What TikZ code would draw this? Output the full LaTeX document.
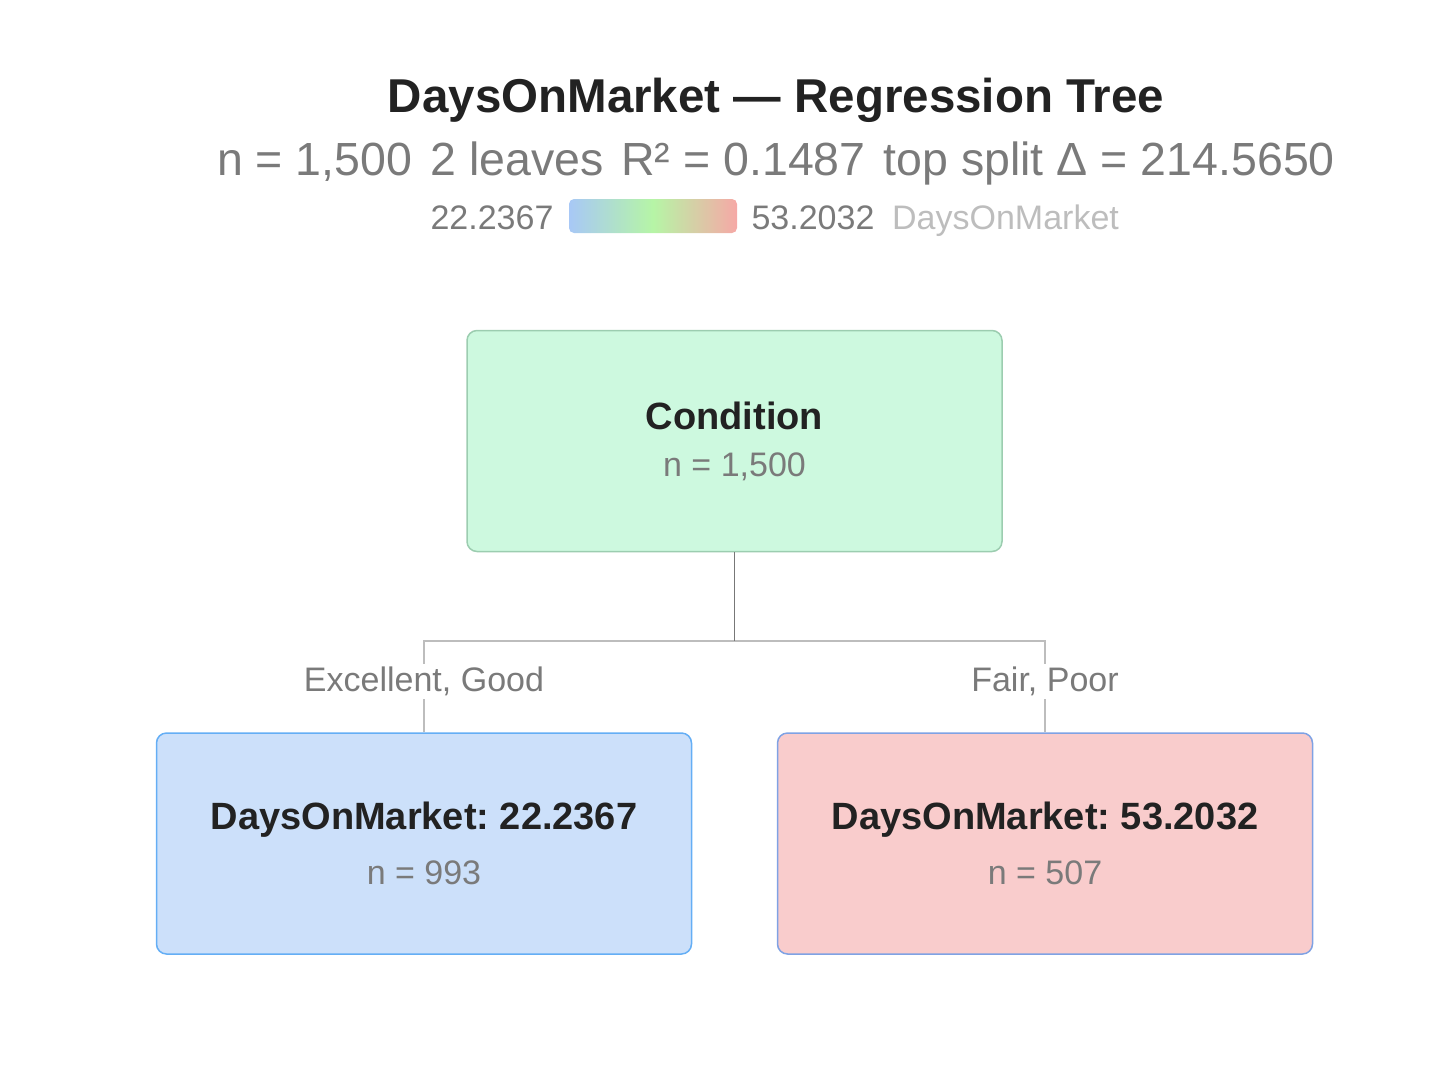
\documentclass[tikz,border=0pt]{standalone}
\usepackage{fontspec}
\setmainfont{Liberation Sans}
\usetikzlibrary{positioning}
\definecolor{titlegray}{HTML}{222222}
\definecolor{subgray}{HTML}{7A7A7A}
\definecolor{lightgray}{HTML}{BDBDBD}
\definecolor{edgegray}{HTML}{777777}
\definecolor{rootfill}{HTML}{CDF9DF}
\definecolor{rootdraw}{HTML}{9CCDB0}
\definecolor{lowfill}{HTML}{CCE0FA}
\definecolor{lowdraw}{HTML}{64AEF5}
\definecolor{highfill}{HTML}{F9CCCC}
\definecolor{highdraw}{HTML}{7FA2E4}
\definecolor{barlow}{HTML}{A8C8F6}
\definecolor{barmid}{HTML}{B6F5A6}
\definecolor{barhigh}{HTML}{F6A8A6}
\newcommand{\fsz}[1]{\fontsize{#1}{#1}\selectfont}
\frenchspacing
\tikzset{
  treenode/.style={draw, line width=1.5pt, rounded corners=10pt, minimum width=535pt, minimum height=221pt, align=center, text=titlegray},
  branch/.style={draw=lightgray, line width=1.5pt},
  branchlabel/.style={fill=white, text=subgray, inner sep=3pt, font=\fsz{34}}
}
\begin{document}
\begin{tikzpicture}[x=1pt,y=-1pt]
  \useasboundingbox (0,0) rectangle (1451,1069);
  \node[text=titlegray] (title) at (776,100) {\fsz{47.5}\bfseries DaysOnMarket --- Regression Tree};
  \node[text=subgray] (stats) at (776,163) {\fsz{46.5}n = 1,500\hspace{18pt}2 leaves\hspace{18pt}R² = 0.1487\hspace{18pt}top split Δ = 214.5650};
  \shade[left color=barlow, right color=barhigh, middle color=barmid, rounded corners=5pt] (569,199) rectangle (737,233);
  \node[anchor=base east, text=subgray] (lowval) at (557,229) {\fsz{34}22.2367};
  \node[anchor=base west, text=subgray] (highval) at (748,229) {\fsz{34}53.2032};
  \node[anchor=base west, text=lightgray, inner sep=2pt, xshift=12pt] (legname) at (highval.base east) {\fsz{34}DaysOnMarket};

  \node[treenode, fill=rootfill, draw=rootdraw] (root) at (734.5,441) {{\fsz{38}\bfseries Condition}\\[22pt]{\fsz{34}\color{subgray}n = 1,500}};
  \node[treenode, fill=lowfill, draw=lowdraw] (low) at (424,843.5) {{\fsz{38}\bfseries DaysOnMarket: 22.2367}\\[22pt]{\fsz{34}\color{subgray}n = 993}};
  \node[treenode, fill=highfill, draw=highdraw] (high) at (1045,843.5) {{\fsz{38}\bfseries DaysOnMarket: 53.2032}\\[22pt]{\fsz{34}\color{subgray}n = 507}};

  \coordinate (split) at (734.5,641);
  \draw[branch] (split) -| (low.north) node[branchlabel, pos=0.72] {Excellent, Good};
  \draw[branch] (split) -| (high.north) node[branchlabel, pos=0.72] {Fair, Poor};
  \draw[edgegray, line width=1.5pt] (root.south) -- (split);
\end{tikzpicture}
\end{document}
